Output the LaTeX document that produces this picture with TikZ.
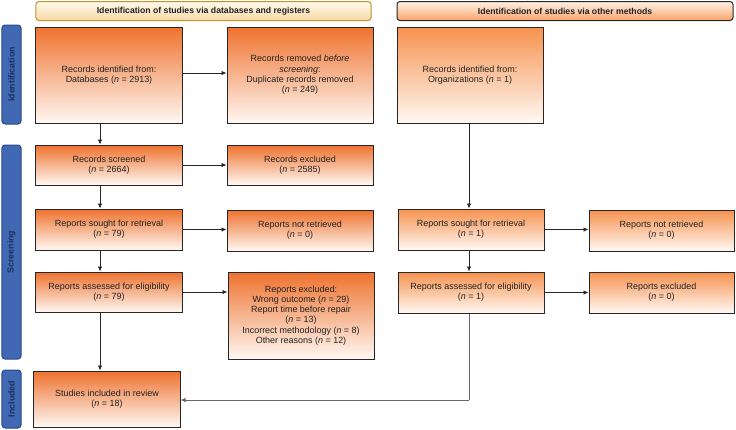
\documentclass[tikz,border=0pt]{standalone}
\usepackage{fontspec}
\setmainfont{Liberation Sans}
\usetikzlibrary{arrows.meta,calc}
\definecolor{boxtop}{HTML}{EE722E}
\definecolor{boxtopR}{HTML}{F6924F}
\definecolor{boxbot}{HTML}{FFF8F3}
\definecolor{sideblue}{HTML}{4169B3}
\definecolor{sideborder}{HTML}{2B4A86}
\definecolor{sidetext}{HTML}{1C2F5E}
\definecolor{hAtop}{HTML}{FFF9EC}
\definecolor{hAbot}{HTML}{F8D9A6}
\definecolor{hAborder}{HTML}{C0942F}
\definecolor{hBtop}{HTML}{FFF1E6}
\definecolor{hBbot}{HTML}{F8A46A}
\definecolor{txt}{HTML}{222222}
\tikzset{
  flowbox/.style={draw=black!85, line width=1bp, top color=boxtop, bottom color=boxbot,
    minimum width=146bp, align=center, font=\fontsize{9}{10.3}\selectfont, text=txt, inner sep=2bp},
  flowboxR/.style={flowbox, top color=boxtopR},
  sidebox/.style={draw=sideborder, line width=1bp, fill=sideblue, rounded corners=3bp,
    minimum width=19bp, text=sidetext, font=\bfseries\fontsize{8.8}{10}\selectfont, inner sep=0pt},
  headA/.style={draw=hAborder, line width=1bp, top color=hAtop, bottom color=hAbot, rounded corners=3bp,
    minimum width=335bp, minimum height=19bp, font=\bfseries\fontsize{8.7}{10}\selectfont, text=txt},
  headB/.style={draw=black!85, line width=1bp, top color=hBtop, bottom color=hBbot, rounded corners=3bp,
    minimum width=336bp, minimum height=19bp, font=\bfseries\fontsize{8.7}{10}\selectfont, text=txt},
  arr/.style={draw=black!85, line width=0.8bp, -{Latex[length=5bp,width=4.5bp]}},
  ln/.style={draw=black!60, line width=0.8bp}
}
\begin{document}
\begin{tikzpicture}[x=1bp,y=-1bp]
\useasboundingbox (0,0) rectangle (736,429);
% headers
\node[headA] (h1) at (203.5,11) {Identification of studies via databases and registers};
\node[headB] (h2) at (565,11) {Identification of studies via other methods};
% side labels
\node[sidebox, minimum height=99bp] (s1) at (11.5,74.5) {\rotatebox{90}{Identification}};
\node[sidebox, minimum height=214bp] (s2) at (11.5,252) {\rotatebox{90}{Screening}};
\node[sidebox, minimum height=58bp] (s3) at (11.5,399) {\rotatebox{90}{Included}};
% left column
\node[flowbox, minimum height=96bp] (a1) at (109,75) {Records identified from:\\Databases (\textit{n} = 2913)};
\node[flowbox, minimum height=40bp] (a2) at (109,165) {Records screened\\(\textit{n} = 2664)};
\node[flowbox, minimum height=41bp] (a3) at (109,229.5) {Reports sought for retrieval\\(\textit{n} = 79)};
\node[flowbox, minimum height=40bp] (a4) at (109,292) {Reports assessed for eligibility\\(\textit{n} = 79)};
\node[flowbox, minimum height=56bp] (a5) at (107,399) {Studies included in review\\(\textit{n} = 18)};
% second column
\node[flowbox, minimum height=96bp] (b1) at (300,75) {Records removed \textit{before}\\\textit{screening}:\\Duplicate records removed\\(\textit{n} = 249)};
\node[flowbox, minimum height=40bp] (b2) at (300,165) {Records excluded\\(\textit{n} = 2585)};
\node[flowbox, minimum height=41bp] (b3) at (300,230.5) {Reports not retrieved\\(\textit{n} = 0)};
\node[flowbox, minimum height=87bp] (b4) at (301,315.5) {Reports excluded:\\Wrong outcome (\textit{n} = 29)\\Report time before repair\\(\textit{n} = 13)\\Incorrect methodology (\textit{n} = 8)\\Other reasons (\textit{n} = 12)};
% other methods
\node[flowboxR, minimum height=96bp] (c1) at (470,75) {Records identified from:\\Organizations (\textit{n} = 1)};
\node[flowboxR, minimum height=41bp] (c2) at (471,229.5) {Reports sought for retrieval\\(\textit{n} = 1)};
\node[flowboxR, minimum height=41bp] (c3) at (471,292.5) {Reports assessed for eligibility\\(\textit{n} = 1)};
\node[flowboxR, minimum height=41bp, minimum width=145bp] (d2) at (661.5,230.5) {Reports not retrieved\\(\textit{n} = 0)};
\node[flowboxR, minimum height=41bp, minimum width=145bp] (d3) at (661.5,292.5) {Reports excluded\\(\textit{n} = 0)};
% guide coordinates
\coordinate (colL) at (100,0);
\coordinate (colR) at (469,0);
\coordinate (turn) at (469,400);
% vertical arrows left
\draw[arr] (a1.south -| colL) -- (a2.north -| colL);
\draw[arr] (a2.south -| colL) -- (a3.north -| colL);
\draw[arr] (a3.south -| colL) -- (a4.north -| colL);
\draw[arr] (a4.south -| colL) -- (a5.north -| colL);
% horizontal arrows
\draw[arr] ($(a1.east)+(0,-2)$) -- ($(a1.east -| b1.west)+(0,-2)$);
\draw[arr] (a2.east) -- (a2.east -| b2.west);
\draw[arr] (a3.east) -- (a3.east -| b3.west);
\draw[arr] (a4.east) -- (a4.east -| b4.west);
\draw[arr] (c2.east) -- (c2.east -| d2.west);
\draw[arr] (c3.east) -- (c3.east -| d3.west);
% right column verticals
\draw[arr] (c1.south -| colR) -- (c2.north -| colR);
\draw[arr] (c2.south -| colR) -- (c3.north -| colR);
\draw[ln] (c3.south -| colR) -- (turn);
\draw[arr, draw=black!60] (turn) -- (turn -| a5.east);
\end{tikzpicture}
\end{document}
